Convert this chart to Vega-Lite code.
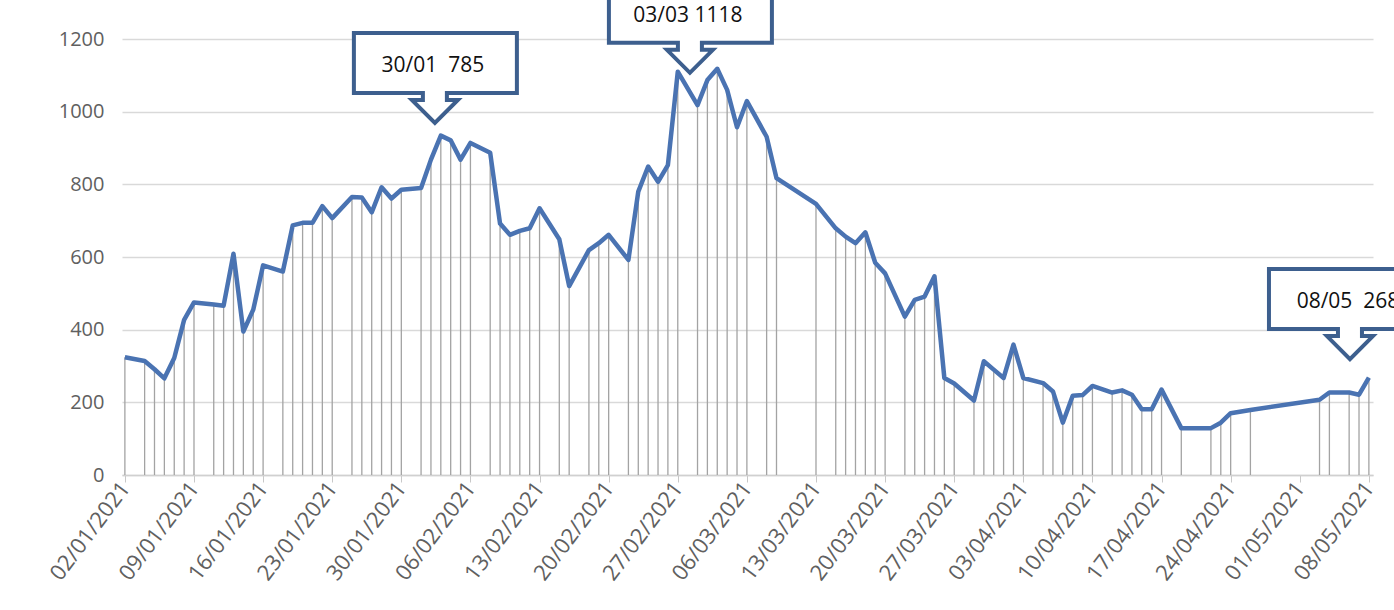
{
  "$schema": "https://vega.github.io/schema/vega-lite/v6.json",
  "autosize": {"type": "none"},
  "padding": {"left": 122, "top": 39, "right": 21, "bottom": 135},
  "width": 1251,
  "height": 436,
  "background": "white",
  "config": {"view": {"stroke": null}, "font": "Open Sans"},
  "datasets": {
    "cases": [
      {"date": "2021-01-02T00:00", "cases": 324},
      {"date": "2021-01-04T00:00", "cases": 314},
      {"date": "2021-01-05T00:00", "cases": 291},
      {"date": "2021-01-06T00:00", "cases": 266},
      {"date": "2021-01-07T00:00", "cases": 322},
      {"date": "2021-01-08T00:00", "cases": 427},
      {"date": "2021-01-09T00:00", "cases": 475},
      {"date": "2021-01-11T00:00", "cases": 469},
      {"date": "2021-01-12T00:00", "cases": 466},
      {"date": "2021-01-13T00:00", "cases": 609},
      {"date": "2021-01-14T00:00", "cases": 395},
      {"date": "2021-01-15T00:00", "cases": 455},
      {"date": "2021-01-16T00:00", "cases": 577},
      {"date": "2021-01-18T00:00", "cases": 560},
      {"date": "2021-01-19T00:00", "cases": 687},
      {"date": "2021-01-20T00:00", "cases": 694},
      {"date": "2021-01-21T00:00", "cases": 694},
      {"date": "2021-01-22T00:00", "cases": 740},
      {"date": "2021-01-23T00:00", "cases": 707},
      {"date": "2021-01-25T00:00", "cases": 765},
      {"date": "2021-01-26T00:00", "cases": 764},
      {"date": "2021-01-27T00:00", "cases": 723},
      {"date": "2021-01-28T00:00", "cases": 792},
      {"date": "2021-01-29T00:00", "cases": 761},
      {"date": "2021-01-30T00:00", "cases": 785},
      {"date": "2021-02-01T00:00", "cases": 790},
      {"date": "2021-02-02T00:00", "cases": 868},
      {"date": "2021-02-03T00:00", "cases": 934},
      {"date": "2021-02-04T00:00", "cases": 921},
      {"date": "2021-02-05T00:00", "cases": 868},
      {"date": "2021-02-06T00:00", "cases": 914},
      {"date": "2021-02-08T00:00", "cases": 887},
      {"date": "2021-02-09T00:00", "cases": 692},
      {"date": "2021-02-10T00:00", "cases": 661},
      {"date": "2021-02-11T00:00", "cases": 672},
      {"date": "2021-02-12T00:00", "cases": 679},
      {"date": "2021-02-13T00:00", "cases": 734},
      {"date": "2021-02-15T00:00", "cases": 649},
      {"date": "2021-02-16T00:00", "cases": 520},
      {"date": "2021-02-18T00:00", "cases": 619},
      {"date": "2021-02-19T00:00", "cases": 638},
      {"date": "2021-02-20T00:00", "cases": 661},
      {"date": "2021-02-22T00:00", "cases": 592},
      {"date": "2021-02-23T00:00", "cases": 780},
      {"date": "2021-02-24T00:00", "cases": 849},
      {"date": "2021-02-25T00:00", "cases": 807},
      {"date": "2021-02-26T00:00", "cases": 853},
      {"date": "2021-02-27T00:00", "cases": 1110},
      {"date": "2021-03-01T00:00", "cases": 1018},
      {"date": "2021-03-02T00:00", "cases": 1087},
      {"date": "2021-03-03T00:00", "cases": 1118},
      {"date": "2021-03-04T00:00", "cases": 1060},
      {"date": "2021-03-05T00:00", "cases": 957},
      {"date": "2021-03-06T00:00", "cases": 1029},
      {"date": "2021-03-08T00:00", "cases": 931},
      {"date": "2021-03-09T00:00", "cases": 817},
      {"date": "2021-03-13T00:00", "cases": 746},
      {"date": "2021-03-15T00:00", "cases": 679},
      {"date": "2021-03-16T00:00", "cases": 656},
      {"date": "2021-03-17T00:00", "cases": 638},
      {"date": "2021-03-18T00:00", "cases": 668},
      {"date": "2021-03-19T00:00", "cases": 584},
      {"date": "2021-03-20T00:00", "cases": 555},
      {"date": "2021-03-22T00:00", "cases": 436},
      {"date": "2021-03-23T00:00", "cases": 482},
      {"date": "2021-03-24T00:00", "cases": 491},
      {"date": "2021-03-25T00:00", "cases": 547},
      {"date": "2021-03-26T00:00", "cases": 267},
      {"date": "2021-03-27T00:00", "cases": 252},
      {"date": "2021-03-29T00:00", "cases": 205},
      {"date": "2021-03-30T00:00", "cases": 313},
      {"date": "2021-03-31T00:00", "cases": 290},
      {"date": "2021-04-01T00:00", "cases": 267},
      {"date": "2021-04-02T00:00", "cases": 359},
      {"date": "2021-04-03T00:00", "cases": 267},
      {"date": "2021-04-05T00:00", "cases": 253},
      {"date": "2021-04-06T00:00", "cases": 230},
      {"date": "2021-04-07T00:00", "cases": 144},
      {"date": "2021-04-08T00:00", "cases": 218},
      {"date": "2021-04-09T00:00", "cases": 220},
      {"date": "2021-04-10T00:00", "cases": 245},
      {"date": "2021-04-12T00:00", "cases": 227},
      {"date": "2021-04-13T00:00", "cases": 233},
      {"date": "2021-04-14T00:00", "cases": 221},
      {"date": "2021-04-15T00:00", "cases": 181},
      {"date": "2021-04-16T00:00", "cases": 181},
      {"date": "2021-04-17T00:00", "cases": 235},
      {"date": "2021-04-19T00:00", "cases": 129},
      {"date": "2021-04-22T00:00", "cases": 129},
      {"date": "2021-04-23T00:00", "cases": 144},
      {"date": "2021-04-24T00:00", "cases": 170},
      {"date": "2021-04-26T00:00", "cases": 179},
      {"date": "2021-05-03T00:00", "cases": 207},
      {"date": "2021-05-04T00:00", "cases": 227},
      {"date": "2021-05-06T00:00", "cases": 227},
      {"date": "2021-05-07T00:00", "cases": 221},
      {"date": "2021-05-08T00:00", "cases": 268}
    ],
    "callouts": [
      {"date": "2021-02-02T09:36", "cases": 969, "label": "30/01\u00a0\u00a0785"},
      {"date": "2021-02-28T05:30", "cases": 1107, "label": "03/03 1118"},
      {"date": "2021-05-06T02:00", "cases": 319, "label": "08/05\u00a0\u00a0268"}
    ]
  },
  "encoding": {
    "x": {
      "field": "date",
      "type": "temporal",
      "title": null,
      "scale": {
        "domain": [
          {"year": 2021, "month": 1, "date": 1, "hours": 17},
          {"year": 2021, "month": 5, "date": 8, "hours": 10}
        ]
      },
      "axis": {
        "values": [
          {"year": 2021, "month": 1, "date": 2},
          {"year": 2021, "month": 1, "date": 9},
          {"year": 2021, "month": 1, "date": 16},
          {"year": 2021, "month": 1, "date": 23},
          {"year": 2021, "month": 1, "date": 30},
          {"year": 2021, "month": 2, "date": 6},
          {"year": 2021, "month": 2, "date": 13},
          {"year": 2021, "month": 2, "date": 20},
          {"year": 2021, "month": 2, "date": 27},
          {"year": 2021, "month": 3, "date": 6},
          {"year": 2021, "month": 3, "date": 13},
          {"year": 2021, "month": 3, "date": 20},
          {"year": 2021, "month": 3, "date": 27},
          {"year": 2021, "month": 4, "date": 3},
          {"year": 2021, "month": 4, "date": 10},
          {"year": 2021, "month": 4, "date": 17},
          {"year": 2021, "month": 4, "date": 24},
          {"year": 2021, "month": 5, "date": 1},
          {"year": 2021, "month": 5, "date": 8}
        ],
        "format": "%d/%m/%Y",
        "labelAngle": -53,
        "labelFontSize": 22,
        "labelColor": "#606060",
        "labelFont": "Open Sans",
        "labelPadding": 2,
        "labelOverlap": false,
        "labelFlush": false,
        "grid": false,
        "domainColor": "#d0d0d0",
        "domainWidth": 1.5,
        "tickColor": "#c8c8c8",
        "tickSize": 7
      }
    },
    "y": {
      "field": "cases",
      "type": "quantitative",
      "title": null,
      "scale": {"domain": [0, 1200], "nice": false},
      "axis": {
        "values": [0, 200, 400, 600, 800, 1000, 1200],
        "format": "d",
        "labelFontSize": 20,
        "labelColor": "#606060",
        "labelFont": "Open Sans",
        "labelPadding": 18,
        "domain": false,
        "ticks": false,
        "gridColor": "#d9d9d9",
        "gridWidth": 1.5
      }
    }
  },
  "layer": [
    {
      "data": {"name": "cases"},
      "mark": {"type": "rule", "color": "#a3a3a3", "strokeWidth": 1.3},
      "encoding": {"y2": {"datum": 0}}
    },
    {
      "data": {"name": "cases"},
      "mark": {"type": "line", "color": "#4a73b2", "strokeWidth": 4.5, "strokeJoin": "round"}
    },
    {
      "data": {"name": "callouts"},
      "mark": {
        "type": "point",
        "shape": "M-81,-90L82,-90L82,-30L12,-30L12,-23L23,-23L0,0L-23,-23L-12,-23L-12,-30L-81,-30Z",
        "size": 4,
        "filled": false,
        "fill": "white",
        "stroke": "#3d5f8e",
        "strokeWidth": 4,
        "opacity": 1,
        "fillOpacity": 1,
        "strokeOpacity": 1,
        "strokeJoin": "miter"
      }
    },
    {
      "data": {"name": "callouts"},
      "mark": {
        "type": "text",
        "dy": -57,
        "dx": -2,
        "align": "center",
        "baseline": "middle",
        "font": "Open Sans",
        "fontSize": 21,
        "color": "#111111"
      },
      "encoding": {"text": {"field": "label"}}
    }
  ]
}
